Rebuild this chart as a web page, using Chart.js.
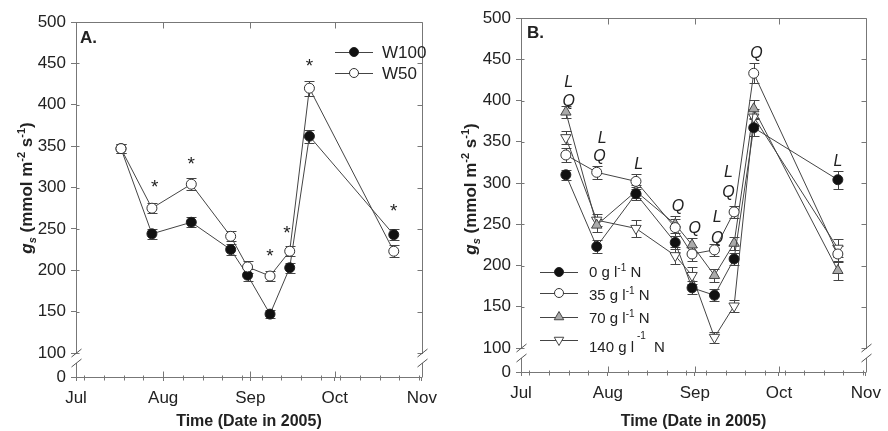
<!DOCTYPE html>
<html>
<head>
<meta charset="utf-8">
<script src="https://cdn.jsdelivr.net/npm/chart.js@4.4.0/dist/chart.umd.min.js"></script>
<style>
  html, body { margin: 0; padding: 0; background: #fff; }
  #wrap { position: relative; width: 888px; height: 431px; }
  canvas { position: absolute; top: 0; }
  #chartA { left: 0; }
  #chartB { left: 444px; }
</style>
</head>
<body>
<div id="wrap">
  <canvas id="chartA" width="444" height="431"></canvas>
  <canvas id="chartB" width="444" height="431"></canvas>
</div>
<script>
// sampling dates, as days after 1 July 2005
const sampleDays = [16, 27, 41, 55, 61, 69, 76, 83, 113];
const monthDays = [0, 31, 62, 92, 123];
const monthNames = ['Jul', 'Aug', 'Sep', 'Oct', 'Nov'];
const weekDays = [3, 10, 17, 24, 38, 45, 52, 59, 66, 73, 80, 87, 94, 101, 108, 115, 122];
const yTicks = [100, 150, 200, 250, 300, 350, 400, 450, 500];
const yZero = 71; // where the "0" sits, below the axis break

// panel A - irrigation
const w100 = [347, 244, 258, 225, 194, 147, 203, 362, 243];
const w100Err = [5, 6, 6, 7, 7, 5, 6, 8, 7];
const w50 = [347, 275, 304, 241, 204, 193, 223, 420, 223];
const w50Err = [5, 6, 7, 6, 7, 6, 6, 9, 7];
const starDays = [28, 41, 69, 75, 83, 113];
const starVals = [305, 333, 222, 250, 452, 276];

// panel B - nitrogen
const n0 = [310, 223, 287, 228, 173, 164, 208, 367, 304];
const n0Err = [6, 8, 8, 8, 8, 7, 7, 10, 11];
const n35 = [334, 313, 302, 246, 214, 219, 265, 433, 214];
const n35Err = [9, 8, 9, 10, 8, 7, 7, 12, 10];
const n70 = [386, 249, 290, 250, 225, 188, 227, 390, 194];
const n70Err = [7, 8, 8, 10, 8, 8, 8, 11, 11];
const n140 = [355, 255, 245, 212, 188, 113, 151, 380, 221];
const n140Err = [8, 7, 10, 10, 10, 7, 7, 10, 11];
const sigDays = [17, 17, 29, 28, 42, 56, 62, 70, 70, 74, 74, 84, 113];
const sigVals = [424, 401, 356, 334, 324, 273, 247, 260, 235, 314, 290, 459, 328];
const sigText = ['L', 'Q', 'L', 'Q', 'L', 'Q', 'Q', 'L', 'Q', 'L', 'Q', 'Q', 'L'];

const FONT = "'Liberation Sans', Arial, sans-serif";
Chart.defaults.font.family = FONT;
Chart.defaults.color = '#222';

const filled = { pointStyle: 'circle', pointRadius: 5, pointBackgroundColor: '#111', pointBorderColor: '#222' };
const open = { pointStyle: 'circle', pointRadius: 5, pointBackgroundColor: '#fff', pointBorderColor: '#333' };
const triUp = { pointStyle: 'triangle', pointRadius: 6, pointBackgroundColor: '#aaa', pointBorderColor: '#444' };
const triDown = { pointStyle: 'triangle', pointRadius: 6, pointRotation: 180, pointBackgroundColor: '#fff', pointBorderColor: '#444' };

function series(label, vals, errs, style, order) {
  return Object.assign({
    label: label,
    data: sampleDays.map((d, i) => ({ x: d, y: vals[i] })),
    errors: errs,
    order: order,
    borderColor: '#444',
    borderWidth: 1,
    pointBorderWidth: 1,
    tension: 0
  }, style);
}

function axes(yWidth, xHeight) {
  return {
    x: {
      type: 'linear', min: 0, max: 123,
      afterBuildTicks: s => { s.ticks = monthDays.map(v => ({ value: v })); },
      afterFit: s => { s.height = xHeight; },
      ticks: { autoSkip: false, maxRotation: 0, padding: 7, font: { size: 17 },
        callback: v => monthNames[monthDays.indexOf(v)] },
      grid: { drawOnChartArea: false, tickLength: 4, color: '#777' },
      border: { color: '#777' },
      title: { display: true, text: 'Time (Date in 2005)', padding: 0,
        font: { size: 16, weight: 'bold' } }
    },
    y: {
      min: yZero, max: 500,
      afterBuildTicks: s => { s.ticks = [yZero].concat(yTicks).map(v => ({ value: v })); },
      afterFit: s => { s.width = yWidth; },
      ticks: { padding: 5, font: { size: 17 }, callback: v => v === yZero ? '0' : v },
      grid: { drawOnChartArea: false, tickLength: 5, color: '#777' },
      border: { color: '#777' }
    }
  };
}

const px = v => Math.round(v) + 0.5;

function line(ctx, x1, y1, x2, y2) {
  ctx.beginPath(); ctx.moveTo(x1, y1); ctx.lineTo(x2, y2); ctx.stroke();
}

// text made of pieces, some raised or lowered
function drawParts(ctx, parts, x, y, size, weight) {
  ctx.textAlign = 'left';
  ctx.textBaseline = 'alphabetic';
  parts.forEach(p => {
    const sz = p.small ? Math.round(size * 0.65) : size;
    ctx.font = (p.style || '') + ' ' + (weight || '') + ' ' + sz + 'px ' + FONT;
    x += p.dx || 0;
    ctx.fillText(p.t, x, y + (p.dy || 0));
    x += ctx.measureText(p.t).width;
  });
}

function partsWidth(ctx, parts, size, weight) {
  let w = 0;
  parts.forEach(p => {
    const sz = p.small ? Math.round(size * 0.65) : size;
    ctx.font = (p.style || '') + ' ' + (weight || '') + ' ' + sz + 'px ' + FONT;
    w += (p.dx || 0) + ctx.measureText(p.t).width;
  });
  return w;
}

const yTitle = [
  { t: 'g', style: 'italic' },
  { t: 's', style: 'italic', small: true, dy: 4 },
  { t: ' (mmol m' },
  { t: '-2', small: true, dy: -7 },
  { t: ' s' },
  { t: '-1', small: true, dy: -7 },
  { t: ')' }
];

const deco = {
  id: 'deco',
  beforeDatasetsDraw(chart) {
    const ctx = chart.ctx, ys = chart.scales.y;
    ctx.save();
    ctx.strokeStyle = '#444';
    ctx.lineWidth = 1;
    chart.data.datasets.forEach((ds, i) => {
      chart.getDatasetMeta(i).data.forEach((pt, j) => {
        const v = ds.data[j].y, e = ds.errors[j];
        const t = px(ys.getPixelForValue(v + e)), b = px(ys.getPixelForValue(v - e));
        const x = px(pt.x);
        line(ctx, x, t, x, b);
        line(ctx, x - 5, t, x + 5, t);
        line(ctx, x - 5, b, x + 5, b);
      });
    });
    ctx.restore();
  },
  afterDraw(chart, args, o) {
    const ctx = chart.ctx, a = chart.chartArea, xs = chart.scales.x, ys = chart.scales.y;
    ctx.save();
    ctx.strokeStyle = '#777';
    ctx.lineWidth = 1;
    const L = px(a.left), R = px(a.right), T = px(a.top), B = px(a.bottom);
    line(ctx, L, T, R, T);
    line(ctx, R, T, R, B);
    monthDays.slice(1, -1).forEach(d => {
      const x = px(xs.getPixelForValue(d));
      line(ctx, x, T, x, T + 6);
      line(ctx, x, B, x, B - 6);
    });
    weekDays.forEach(d => {
      const x = px(xs.getPixelForValue(d));
      line(ctx, x, B - 2, x, B + 3);
    });
    yTicks.forEach(v => {
      const y = px(ys.getPixelForValue(v));
      line(ctx, R, y, R - 5, y);
      line(ctx, L, y, L + 3, y);
    });
    // axis breaks
    const yb = Math.round(ys.getPixelForValue(100));
    [L, R].forEach(x => {
      ctx.fillStyle = '#fff';
      ctx.fillRect(x - 2, yb + 1, 4, 9);
      ctx.strokeStyle = '#555';
      line(ctx, x - 5, yb + 4, x + 5, yb - 4);
      line(ctx, x - 5, yb + 14, x + 5, yb + 6);
    });

    // y title
    ctx.fillStyle = '#222';
    ctx.save();
    ctx.translate(o.titleX, o.titleY);
    ctx.rotate(-Math.PI / 2);
    const w = partsWidth(ctx, yTitle, 17, 'bold');
    drawParts(ctx, yTitle, -w / 2, 6, 17, 'bold');
    ctx.restore();

    // panel letter
    ctx.font = 'bold 17px ' + FONT;
    ctx.textAlign = 'left';
    ctx.textBaseline = 'middle';
    ctx.fillText(o.panel[0], o.panel[1], o.panel[2]);

    // significance marks
    o.marks.days.forEach((d, i) => {
      ctx.font = o.marks.font;
      ctx.textAlign = 'center';
      ctx.textBaseline = 'alphabetic';
      ctx.fillText(o.marks.text[i], xs.getPixelForValue(d),
        ys.getPixelForValue(o.marks.vals[i]) + o.marks.rise);
    });

    // legend
    const lg = o.legend;
    lg.rows.forEach(r => {
      ctx.strokeStyle = '#444';
      line(ctx, lg.x1, px(r.ly), lg.x2, px(r.ly));
      ctx.fillStyle = r.st.pointBackgroundColor;
      ctx.strokeStyle = r.st.pointBorderColor;
      Chart.helpers.drawPoint(ctx, {
        pointStyle: r.st.pointStyle, radius: r.st.pointRadius - 0.5,
        rotation: r.st.pointRotation || 0, borderWidth: 1
      }, (lg.x1 + lg.x2) / 2, r.ly);
      ctx.fillStyle = '#222';
      drawParts(ctx, r.parts, lg.tx, r.ty, lg.size);
    });
    ctx.restore();
  }
};

new Chart(document.getElementById('chartA'), {
  type: 'line',
  data: {
    datasets: [
      series('W100', w100, w100Err, filled, 1),
      series('W50', w50, w50Err, open, 0)
    ]
  },
  options: {
    responsive: false,
    animation: false,
    layout: { padding: { top: 22, right: 15, left: 0, bottom: 0 } },
    scales: axes(76, 54),
    plugins: {
      legend: { display: false },
      tooltip: { enabled: false },
      deco: {
        titleX: 26, titleY: 188,
        panel: ['A.', 80, 38],
        marks: { days: starDays, vals: starVals, text: starDays.map(() => '*'),
          font: '19px ' + FONT, rise: 10 },
        legend: { x1: 335, x2: 373, tx: 382, size: 17, rows: [
          { ly: 52, ty: 58, st: filled, parts: [{ t: 'W100' }] },
          { ly: 73, ty: 79, st: open, parts: [{ t: 'W50' }] }
        ] }
      }
    }
  },
  plugins: [deco]
});

new Chart(document.getElementById('chartB'), {
  type: 'line',
  data: {
    datasets: [
      series('0 g/l N', n0, n0Err, filled, 0),
      series('35 g/l N', n35, n35Err, open, 1),
      series('70 g/l N', n70, n70Err, triUp, 2),
      series('140 g/l N', n140, n140Err, triDown, 3)
    ]
  },
  options: {
    responsive: false,
    animation: false,
    layout: { padding: { top: 18, right: 12, left: 0, bottom: 0 } },
    scales: axes(77, 59),
    plugins: {
      legend: { display: false },
      tooltip: { enabled: false },
      deco: {
        titleX: 26, titleY: 189,
        panel: ['B.', 83, 33],
        marks: { days: sigDays, vals: sigVals, text: sigText,
          font: 'italic 16px ' + FONT, rise: 6 },
        legend: { x1: 96, x2: 134, tx: 145, size: 15, rows: [
          { ly: 272, ty: 277, st: filled, parts: [{ t: '0 g l' }, { t: '-1', small: true, dy: -6 }, { t: ' N' }] },
          { ly: 293, ty: 300, st: open, parts: [{ t: '35 g l' }, { t: '-1', small: true, dy: -6 }, { t: ' N' }] },
          { ly: 317, ty: 323, st: triUp, parts: [{ t: '70 g l' }, { t: '-1', small: true, dy: -6 }, { t: ' N' }] },
          { ly: 340, ty: 352, st: triDown, parts: [{ t: '140 g l' }, { t: '-1', small: true, dx: 3, dy: -13 }, { t: 'N', dx: 8 }] }
        ] }
      }
    }
  },
  plugins: [deco]
});
</script>
</body>
</html>
